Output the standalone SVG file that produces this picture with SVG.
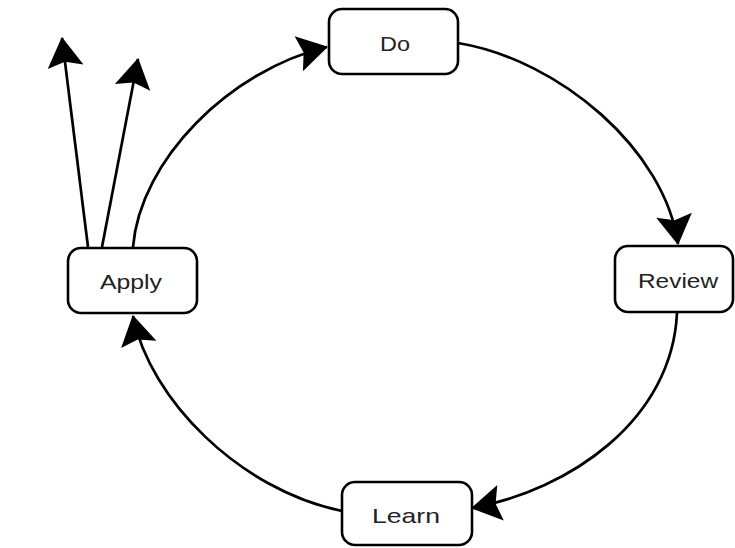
<svg xmlns="http://www.w3.org/2000/svg" width="735" height="548" viewBox="0 0 735 548">
<style>
.box{fill:#fff;stroke:#000;stroke-width:2.6}
.lbl{font-family:"Liberation Sans",Arial,sans-serif;font-size:21px;fill:#222;text-anchor:middle;dominant-baseline:central}
.edge{fill:none;stroke:#000;stroke-width:2.7}
</style>
<defs>
<marker id="ah" markerUnits="userSpaceOnUse" markerWidth="40" markerHeight="40" viewBox="-32 -20 36 40" refX="0" refY="0" orient="auto">
<path d="M1,0 L-29,-18 L-24,0 L-29,18 Z" fill="#000"/>
</marker>
</defs>
<rect width="735" height="548" fill="#fff"/>
<g id="connectors">
<path class="edge" d="M133,247 C140,160 230,70 327,47" marker-end="url(#ah)"/>
<path class="edge" d="M458,43 C560,60 665,150 678,244" marker-end="url(#ah)"/>
<path class="edge" d="M677,313 C672,420 570,490 472,508" marker-end="url(#ah)"/>
<path class="edge" d="M342,511 C240,490 150,400 133,316" marker-end="url(#ah)"/>
<path class="edge" d="M88,247 L62,38" marker-end="url(#ah)"/>
<path class="edge" d="M102,247 L138,59" marker-end="url(#ah)"/>
</g>
<g id="node-do">
<rect class="box" x="329" y="9" width="129" height="65" rx="13"/>
<text class="lbl" x="395" y="43" textLength="30" lengthAdjust="spacingAndGlyphs">Do</text>
</g>
<g id="node-review">
<rect class="box" x="615" y="246" width="118" height="66" rx="13"/>
<text class="lbl" x="678" y="280" textLength="80" lengthAdjust="spacingAndGlyphs">Review</text>
</g>
<g id="node-learn">
<rect class="box" x="342" y="482" width="130" height="63" rx="13"/>
<text class="lbl" x="406" y="515" textLength="68" lengthAdjust="spacingAndGlyphs">Learn</text>
</g>
<g id="node-apply">
<rect class="box" x="68" y="248" width="129" height="65" rx="13"/>
<text class="lbl" x="131" y="281" textLength="62" lengthAdjust="spacingAndGlyphs">Apply</text>
</g>
</svg>
